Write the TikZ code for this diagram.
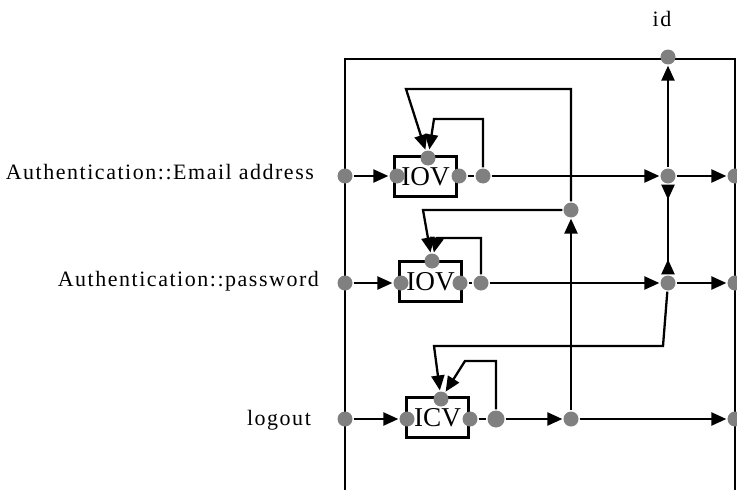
\documentclass[tikz,border=0pt]{standalone}
\usepackage{fontspec}
\setmainfont{Liberation Serif}
\usetikzlibrary{arrows.meta}

\begin{document}
\begin{tikzpicture}[x=0.02cm,y=-0.02cm,line width=1.3pt,
		>={Triangle[length=0.3cm,width=0.26cm]},
		port/.style={circle,fill=gray,inner sep=0pt,minimum size=0.3cm},
		blk/.style={draw,rectangle,inner sep=0pt,minimum width=1.24cm,minimum height=0.8cm,font=\fontsize{15.5}{18}\selectfont},
		lbl/.style={anchor=base east,inner sep=0pt,font=\fontsize{12.5}{15}\selectfont\addfontfeature{LetterSpace=7}},
		inward/.style={arrows={Triangle[reversed,length=0.3cm,width=0.26cm]-Triangle[reversed,length=0.3cm,width=0.26cm]}}]
		
		\useasboundingbox (0,0) rectangle (737,490);
		\clip (0,0) rectangle (737,490);
		
		\draw (345,500) |- (735,59) -- (735,500);
		
		\node[lbl] (l1) at (315,179) {Authentication::Email address};
		\node[lbl] (l2) at (320,286) {Authentication::password};
		\node[lbl] (l3) at (312,425) {logout};
		\node[lbl,anchor=base] (lid) at (662,27) {id};
		
		\node[blk] (b1) at (425.5,176.5) {IOV};
		\node[blk] (b2) at (430.5,281.5) {IOV};
		\node[blk] (b3) at (437.5,417.5) {ICV};
		
		\node[port] (in1) at (345,176) {};
		\node[port] (in2) at (345,283) {};
		\node[port] (in3) at (345,419) {};
		
		\node[port] (b1l) at (397,176) {};
		\node[port] (b1t) at (428,158) {};
		\node[port] (b1r) at (459,176) {};
		\node[port] (b2l) at (401,283) {};
		\node[port] (b2t) at (432,261) {};
		\node[port] (b2r) at (460,283) {};
		\node[port] (b3l) at (407,419) {};
		\node[port] (b3t) at (441,399) {};
		\node[port] (b3r) at (470,419) {};
		
		\node[port] (o1) at (483,176) {};
		\node[port] (o2) at (481,283) {};
		\node[port,minimum size=0.34cm] (o3) at (496,419) {};
		
		\node[port] (jid) at (668,57) {};
		\node[port] (j1) at (668,176) {};
		\node[port] (j2) at (668,283) {};
		\node[port] (jfb) at (571,210) {};
		\node[port] (j3) at (571,419) {};
		
		\node[port] (r1) at (735,176) {};
		\node[port] (r2) at (735,283) {};
		\node[port] (r3) at (735,419) {};
		
		\draw[->] (in1) -- (b1l);
		\draw (b1r) -- (o1);
		\draw[->] (o1) -- (j1);
		\draw[->] (j1) -- (r1);
		\draw[->] (j1) -- (jid);
		\draw[->] (o1) |- (434,119) -- (b1t);
		
		\draw[->] (in2) -- (b2l);
		\draw (b2r) -- (o2);
		\draw[->] (o2) -- (j2);
		\draw[->] (j2) -- (r2);
		\draw[->] (o2) |- (437,238) -- (b2t);
		
		\draw[->] (in3) -- (b3l);
		\draw (b3r) -- (o3);
		\draw[->] (o3) -- (j3);
		\draw[->] (j3) -- (r3);
		\draw[->] (o3) |- (465,361) -- (b3t);
		
		\draw[inward] (j1) -- (j2);
		\draw[->] (j3) -- (jfb);
		\draw[->] (jfb) |- (406,89) -- (b1t);
		\draw[->] (jfb) -- (423,210) -- (b2t);
		\draw[->] (j2) -- (663,346) -- (434,346) -- (b3t);
		
	\end{tikzpicture}
\end{document}
